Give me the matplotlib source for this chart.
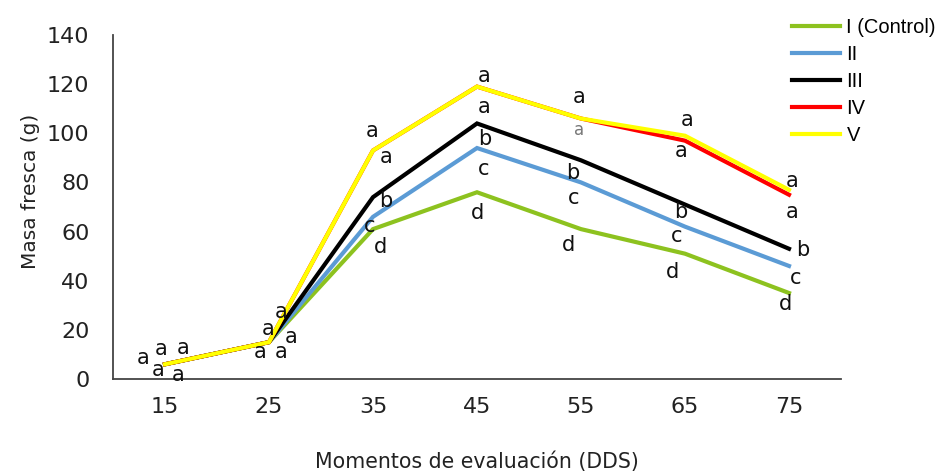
import numpy as np
import matplotlib.pyplot as plt

# Fresh mass (g) per treatment at each evaluation moment (DDS)
dds = ['15', '25', '35', '45', '55', '65', '75']
treatments = ['I (Control)', 'II', 'III', 'IV', 'V']
t1 = [6, 15, 61, 76, 61, 51, 35]
t2 = [6, 15, 66, 94, 80, 62, 46]
t3 = [6, 15, 74, 104, 89, 71, 53]
t4 = [6, 15, 93, 119, 106, 97, 75]
t5 = [6, 15, 93, 119, 106, 99, 77]

# Significance letters at each moment (top to bottom)
letters = [
    ['a', 'a', 'a', 'a', 'a'],
    ['a', 'a', 'a', 'a', 'a'],
    ['a', 'a', 'b', 'c', 'd'],
    ['a', 'a', 'b', 'c', 'd'],
    ['a', 'a', 'b', 'c', 'd'],
    ['a', 'a', 'b', 'c', 'd'],
    ['a', 'a', 'b', 'c', 'd'],
]

colors = ['#8dc21f', '#5b9bd5', '#000000', '#ff0000', '#ffff00']
series = [t1, t2, t3, t4, t5]

fig = plt.figure(figsize=(9.53, 4.74), dpi=100)
ax = fig.add_axes([113 / 953, 1 - 379 / 474, 728 / 953, 344 / 474])

x = np.arange(len(dds))
for vals, c, name in zip(series, colors, treatments):
    ax.plot(x, vals, color=c, lw=3, label=name, solid_joinstyle='miter')

# letter placement (x offset in categories, y in g)
label_pos = [
    [(-0.21, 8.5), (-0.04, 12.2), (0.17, 12.6), (-0.07, 3.7), (0.13, 1.6)],
    [(0.12, 27.3), (-0.01, 20.3), (0.21, 17.1), (-0.09, 11.0), (0.12, 11.0)],
    [(-0.01, 100.9), (0.13, 90.4), (0.12, 72.4), (-0.03, 62.3), (0.07, 53.7)],
    [(0.07, 123.3), (0.07, 110.7), (0.07, 97.7), (0.06, 85.5), (0.0, 67.6)],
    [(-0.02, 114.8), (-0.02, 101.3), (-0.08, 83.8), (-0.07, 73.7), (-0.12, 54.5)],
    [(0.02, 105.4), (-0.04, 92.8), (-0.04, 68.0), (-0.08, 58.2), (-0.12, 43.5)],
    [(0.03, 80.6), (0.03, 68.0), (0.13, 52.5), (0.06, 41.1), (-0.03, 30.5)],
]
for i, (lets, pos) in enumerate(zip(letters, label_pos)):
    for j, (lt, (dx, yy)) in enumerate(zip(lets, pos)):
        small = (i == 4 and j == 1)
        ax.text(i + dx, yy, lt, ha='center', va='center',
                fontsize=12 if small else 15,
                color='#777777' if small else '#111111')

ax.set_xlim(-0.5, len(dds) - 0.5)
ax.set_ylim(0, 140)
ax.set_xticks(x)
ax.set_xticklabels(dds)
ax.set_yticks(np.arange(0, 141, 20))
ax.tick_params(length=0, labelsize=16, colors='#222222')
ax.tick_params(axis='y', pad=17)
ax.tick_params(axis='x', pad=13)
for s in ['top', 'right']:
    ax.spines[s].set_visible(False)
for s in ['left', 'bottom']:
    ax.spines[s].set_color('#444444')
    ax.spines[s].set_linewidth(1.3)

ax.set_ylabel('Masa fresca (g)', fontsize=14.5, color='#222222')
ax.yaxis.set_label_coords(-0.10, 0.545)
ax.set_xlabel('Momentos de evaluación (DDS)', fontsize=14.8, color='#222222', labelpad=25)

fig.legend(loc='upper left', bbox_to_anchor=(774 / 953, 1 - 0 / 474), frameon=False,
           handlelength=2.4, handletextpad=0.3, labelspacing=0.4,
           prop={'family': 'Liberation Sans', 'size': 14.5})

fig.savefig('out.png', dpi=100)
